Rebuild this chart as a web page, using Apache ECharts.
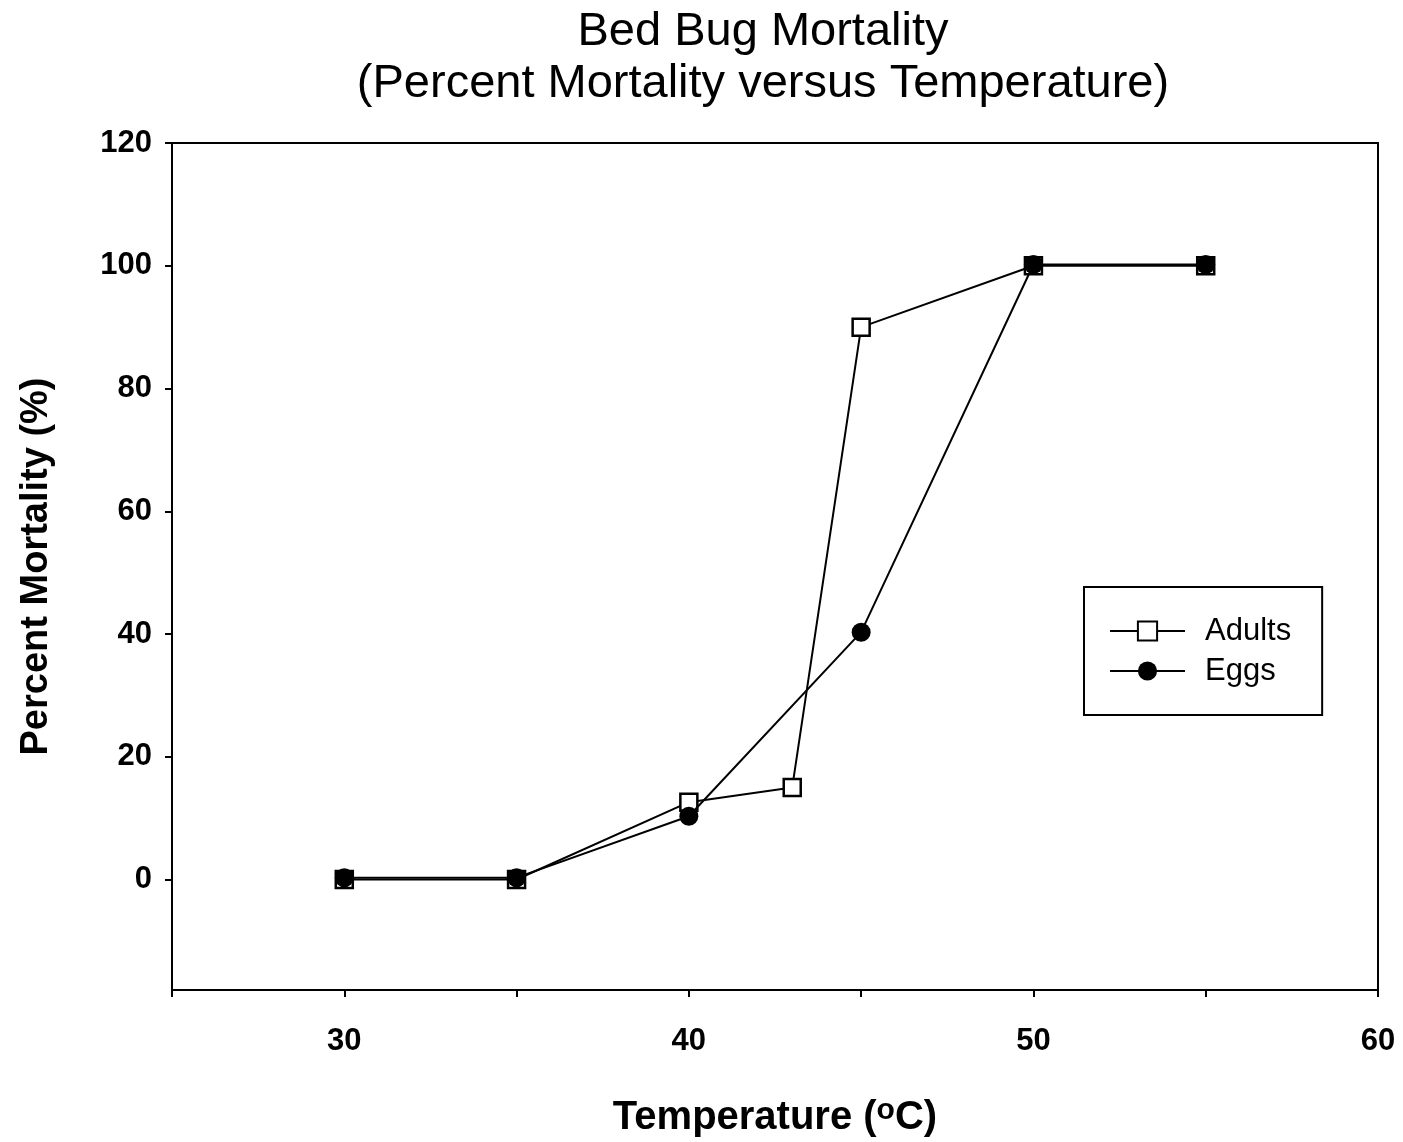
<!DOCTYPE html>
<html>
<head>
<meta charset="utf-8">
<script src="https://cdn.jsdelivr.net/npm/echarts@6/dist/echarts.min.js"></script>
<style>
html,body{margin:0;padding:0;background:#fff;}
#chart{width:1403px;height:1142px;}
</style>
</head>
<body>
<div id="chart"></div>
<script>
// Data
const temperatureAdults = [30, 35, 40, 43, 45, 50, 55];
const mortalityAdults   = [0, 0, 12.6, 15, 90, 100, 100];
const temperatureEggs   = [30, 35, 40, 45, 50, 55];
const mortalityEggs     = [0.3, 0.3, 10.3, 40.3, 100.2, 100.2];
const xTickLabels = [30, 40, 50, 60];
const xTickMarks  = [25, 30, 35, 40, 45, 50, 55, 60];
const yTickLabels = [0, 20, 40, 60, 80, 100, 120];

const FONT = '"Liberation Sans", Arial, Helvetica, sans-serif';

const chart = echarts.init(document.getElementById('chart'), null, {renderer: 'canvas'});
chart.setOption({
  animation: false,
  backgroundColor: '#fff',
  title: {
    text: 'Bed Bug Mortality\n(Percent Mortality versus Temperature)',
    left: 763,
    top: 6,
    textAlign: 'center',
    padding: 0,
    textStyle: {fontFamily: FONT, fontSize: 47, fontWeight: 'normal', color: '#000', lineHeight: 52}
  },
  grid: {
    left: 172, right: 25, top: 143, bottom: 152,
    outerBoundsMode: 'none', containLabel: false,
    show: true, borderColor: '#000', borderWidth: 2, backgroundColor: 'transparent'
  },
  legend: {
    left: 1084, top: 587,
    orient: 'vertical',
    padding: [24, 31, 24, 25],
    itemGap: 0,
    itemWidth: 75,
    itemHeight: 24,
    borderColor: '#000', borderWidth: 2,
    textStyle: {fontFamily: FONT, fontSize: 31, color: '#000', lineHeight: 40, padding: [0, 0, 0, 15]},
    data: ['Adults', 'Eggs']
  },
  xAxis: {
    type: 'value', min: 25, max: 60, interval: 5,
    name: 'Temperature ({sup|o}C)',
    nameLocation: 'middle', nameGap: 106,
    nameTextStyle: {
      fontFamily: FONT, fontSize: 40, fontWeight: 'bold', color: '#000', lineHeight: 44,
      rich: {sup: {fontFamily: FONT, fontSize: 30, fontWeight: 'bold', color: '#000', verticalAlign: 'top', lineHeight: 28}}
    },
    splitLine: {show: false},
    axisLine: {onZero: false, lineStyle: {color: '#000', width: 2}},
    axisTick: {show: true, inside: false, length: 7, lineStyle: {color: '#000', width: 2}, customValues: xTickMarks},
    axisLabel: {fontFamily: FONT, fontSize: 31, fontWeight: 'bold', color: '#000', margin: 36, customValues: xTickLabels}
  },
  yAxis: {
    type: 'value', min: -18, max: 120,
    name: 'Percent Mortality (%)',
    nameLocation: 'middle', nameGap: 116, nameRotate: 90,
    nameTextStyle: {fontFamily: FONT, fontSize: 38, fontWeight: 'bold', color: '#000'},
    splitLine: {show: false},
    axisLine: {onZero: false, lineStyle: {color: '#000', width: 2}},
    axisTick: {show: true, inside: false, length: 7, lineStyle: {color: '#000', width: 2}, customValues: yTickLabels},
    axisLabel: {fontFamily: FONT, fontSize: 31, fontWeight: 'bold', color: '#000', margin: 20, customValues: yTickLabels}
  },
  series: [
    {
      name: 'Adults', type: 'line',
      data: temperatureAdults.map((t, i) => [t, mortalityAdults[i]]),
      symbol: 'rect', symbolSize: 17, showSymbol: true,
      lineStyle: {color: '#000', width: 2},
      itemStyle: {color: '#fff', borderColor: '#000', borderWidth: 2.5},
      emphasis: {disabled: true}, z: 2
    },
    {
      name: 'Eggs', type: 'line',
      data: temperatureEggs.map((t, i) => [t, mortalityEggs[i]]),
      symbol: 'circle', symbolSize: 19, showSymbol: true,
      lineStyle: {color: '#000', width: 2},
      itemStyle: {color: '#000', borderColor: '#000', borderWidth: 0},
      emphasis: {disabled: true}, z: 3
    }
  ]
});
</script>
</body>
</html>
